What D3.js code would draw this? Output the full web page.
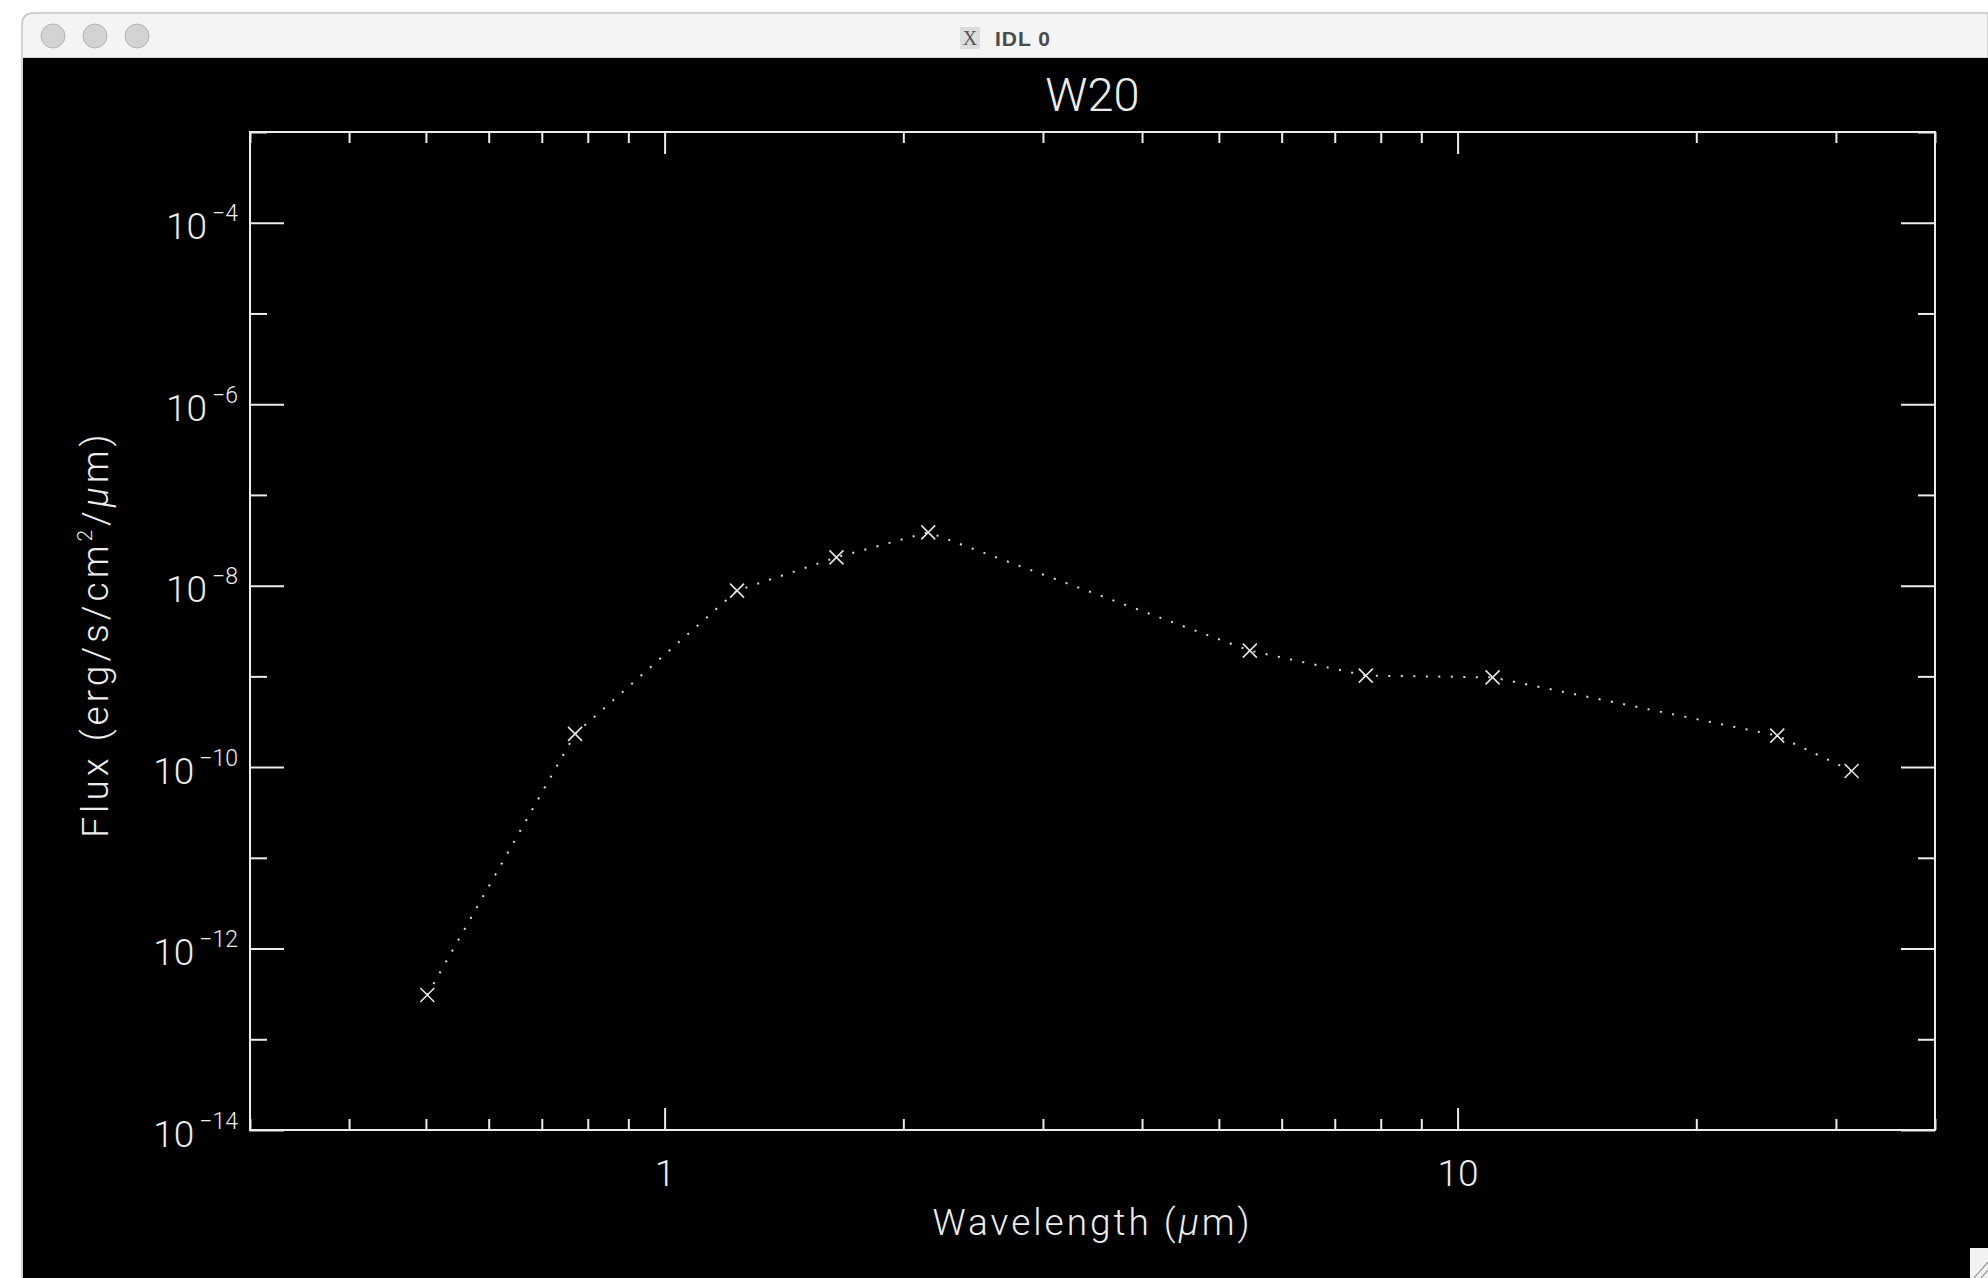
<!DOCTYPE html>
<html>
<head>
<meta charset="utf-8">
<script src="https://cdn.jsdelivr.net/npm/d3@7"></script>
<style>
  html, body { margin: 0; padding: 0; background: #fff; }
  svg { display: block; }
  .lbl { font-family: Roboto, "Open Sans", sans-serif; font-weight: 300; fill: #ececec; }
</style>
</head>
<body>
<div class="chart"></div>
<script>
// photometry points
var wavelength = [0.502, 0.771, 1.234, 1.647, 2.150, 5.47, 7.66, 11.07, 25.3, 31.4];
var flux = [3.08e-13, 2.32e-10, 8.8e-9, 2.05e-8, 3.87e-8, 1.92e-9, 1.02e-9, 9.75e-10, 2.22e-10, 9.06e-11];

var xMajorTicks = [1, 10];
var xMajorLabels = ["1", "10"];
var xMinorTicks = [0.3, 0.4, 0.5, 0.6, 0.7, 0.8, 0.9, 2, 3, 4, 5, 6, 7, 8, 9, 20, 30, 40];
var yMajorTicks = [1e-14, 1e-12, 1e-10, 1e-8, 1e-6, 1e-4];
var yMajorExp = ["\u221214", "\u221212", "\u221210", "\u22128", "\u22126", "\u22124"];
var yMinorTicks = [1e-13, 1e-11, 1e-9, 1e-7, 1e-5, 1e-3];

var svgWidth = 1988;
var svgHeight = 1278;

var margin = { top: 132, right: 53, bottom: 148, left: 250 };
var width = svgWidth - margin.left - margin.right;
var height = svgHeight - margin.top - margin.bottom;

var svg = d3.select(".chart")
  .append("svg")
  .attr("width", svgWidth)
  .attr("height", svgHeight);

// ---- window chrome ----
svg.append("rect")
  .attr("x", 0).attr("y", 0)
  .attr("width", svgWidth).attr("height", svgHeight)
  .attr("fill", "#fff");

svg.append("path")
  .attr("d", "M22,1278 L22,25 Q22,13 34,13 L1988,13 L1988,1278 Z")
  .attr("fill", "#f4f4f4")
  .attr("stroke", "#c4c4c4")
  .attr("stroke-width", 1.5);

svg.append("rect")
  .attr("x", 23).attr("y", 58)
  .attr("width", svgWidth - 23).attr("height", svgHeight - 58)
  .attr("fill", "#000");

svg.append("line")
  .attr("x1", 23).attr("x2", svgWidth)
  .attr("y1", 57.5).attr("y2", 57.5)
  .attr("stroke", "#cfcfcf");

[53, 95, 137].forEach(function(cx) {
  svg.append("circle")
    .attr("cx", cx).attr("cy", 36).attr("r", 12)
    .attr("fill", "#d3d3d3")
    .attr("stroke", "#b4b4b4")
    .attr("stroke-width", 1);
});

svg.append("rect")
  .attr("x", 960).attr("y", 27)
  .attr("width", 20).attr("height", 22)
  .attr("fill", "#dcdcdc");

svg.append("text")
  .attr("x", 970).attr("y", 45)
  .attr("text-anchor", "middle")
  .attr("font-family", "Liberation Serif, serif")
  .attr("font-size", 20)
  .attr("fill", "#555")
  .text("X");

svg.append("text")
  .attr("x", 995).attr("y", 46)
  .attr("font-family", "Liberation Sans, Arial, sans-serif")
  .attr("font-weight", "bold")
  .attr("font-size", 21)
  .attr("letter-spacing", 1)
  .attr("fill", "#4a4a4a")
  .text("IDL 0");

svg.append("rect")
  .attr("x", 1970).attr("y", 1248)
  .attr("width", 18).attr("height", 30)
  .attr("fill", "#f2f2f2");

svg.append("path")
  .attr("d", "M1974,1278 L1988,1262 M1981,1278 L1988,1270")
  .attr("stroke", "#999")
  .attr("stroke-width", 1.2);

// ---- plot ----
var chartGroup = svg.append("g")
  .attr("transform", `translate(${margin.left}, ${margin.top})`);

var xLogScale = d3.scaleLog()
  .domain([0.3, 40])
  .range([0, width]);

var yLogScale = d3.scaleLog()
  .domain([1e-14, 1e-3])
  .range([height, 0]);

var axisColor = "#ececec";

function styleAxis(g) {
  g.select(".domain").remove();
  g.selectAll(".tick line")
    .attr("stroke", axisColor)
    .attr("stroke-width", 2);
}

// bottom
chartGroup.append("g")
  .attr("transform", `translate(0, ${height})`)
  .call(d3.axisBottom(xLogScale).tickValues(xMinorTicks).tickFormat("").tickSizeInner(-11).tickSizeOuter(0))
  .call(styleAxis);

var bottomMajor = chartGroup.append("g")
  .attr("transform", `translate(0, ${height})`)
  .call(d3.axisBottom(xLogScale)
    .tickValues(xMajorTicks)
    .tickFormat(function(d, i) { return xMajorLabels[i]; })
    .tickSizeInner(-22).tickSizeOuter(0).tickPadding(30))
  .call(styleAxis);

bottomMajor.selectAll("text")
  .attr("class", "lbl")
  .attr("font-size", 37)
  .attr("fill", null);

// top
chartGroup.append("g")
  .call(d3.axisTop(xLogScale).tickValues(xMinorTicks).tickFormat("").tickSizeInner(-11).tickSizeOuter(0))
  .call(styleAxis);

chartGroup.append("g")
  .call(d3.axisTop(xLogScale).tickValues(xMajorTicks).tickFormat("").tickSizeInner(-22).tickSizeOuter(0))
  .call(styleAxis);

// left
chartGroup.append("g")
  .call(d3.axisLeft(yLogScale).tickValues(yMinorTicks).tickFormat("").tickSizeInner(-17).tickSizeOuter(0))
  .call(styleAxis);

var leftMajor = chartGroup.append("g")
  .call(d3.axisLeft(yLogScale).tickValues(yMajorTicks).tickFormat("").tickSizeInner(-34).tickSizeOuter(0).tickPadding(12))
  .call(styleAxis);

leftMajor.selectAll(".tick text").each(function(d, i) {
  var t = d3.select(this)
    .attr("class", "lbl")
    .attr("fill", null)
    .attr("font-size", 37)
    .attr("dy", null)
    .attr("y", 16);
  t.append("tspan").text("10");
  t.append("tspan")
    .attr("font-size", 23)
    .attr("dx", 5)
    .attr("dy", -18)
    .text(yMajorExp[i]);
});

// right
chartGroup.append("g")
  .attr("transform", `translate(${width}, 0)`)
  .call(d3.axisRight(yLogScale).tickValues(yMinorTicks).tickFormat("").tickSizeInner(-17).tickSizeOuter(0))
  .call(styleAxis);

chartGroup.append("g")
  .attr("transform", `translate(${width}, 0)`)
  .call(d3.axisRight(yLogScale).tickValues(yMajorTicks).tickFormat("").tickSizeInner(-34).tickSizeOuter(0))
  .call(styleAxis);

// frame
chartGroup.append("rect")
  .attr("x", 0).attr("y", 0)
  .attr("width", width).attr("height", height)
  .attr("fill", "none")
  .attr("stroke", axisColor)
  .attr("stroke-width", 2);

// dotted connecting line
var points = wavelength.map(function(w, i) { return { w: w, f: flux[i] }; });

var lineGen = d3.line()
  .x(d => xLogScale(d.w))
  .y(d => yLogScale(d.f));

chartGroup.append("path")
  .datum(points)
  .attr("d", lineGen)
  .attr("fill", "none")
  .attr("stroke", "#dcdcdc")
  .attr("stroke-width", 2)
  .attr("stroke-dasharray", "2 10.5");

// X markers
chartGroup.selectAll(".mark")
  .data(points)
  .enter()
  .append("path")
  .attr("class", "mark")
  .attr("transform", d => `translate(${xLogScale(d.w)}, ${yLogScale(d.f)})`)
  .attr("d", "M-7,-7L7,7M-7,7L7,-7")
  .attr("stroke", "#e4e4e4")
  .attr("stroke-width", 1.6)
  .attr("fill", "none");

// titles
svg.append("text")
  .attr("class", "lbl")
  .attr("x", margin.left + width / 2)
  .attr("y", 111)
  .attr("text-anchor", "middle")
  .attr("font-size", 47)
  .text("W20");

var xTitle = svg.append("text")
  .attr("class", "lbl")
  .attr("x", margin.left + width / 2)
  .attr("y", 1235)
  .attr("text-anchor", "middle")
  .attr("letter-spacing", 3)
  .attr("font-size", 37);
xTitle.append("tspan").text("Wavelength (");
xTitle.append("tspan").attr("font-style", "italic").text("\u03bc");
xTitle.append("tspan").text("m)");

var yTitle = svg.append("text")
  .attr("class", "lbl")
  .attr("transform", `translate(108, ${margin.top + height / 2 + 3}) rotate(-90)`)
  .attr("text-anchor", "middle")
  .attr("letter-spacing", 4)
  .attr("font-size", 37);
yTitle.append("tspan").text("Flux (erg/s/cm");
yTitle.append("tspan").attr("font-size", 21).attr("dy", -16).text("2");
yTitle.append("tspan").attr("dy", 16).text("/");
yTitle.append("tspan").attr("font-style", "italic").text("\u03bc");
yTitle.append("tspan").text("m)");
</script>
</body>
</html>
